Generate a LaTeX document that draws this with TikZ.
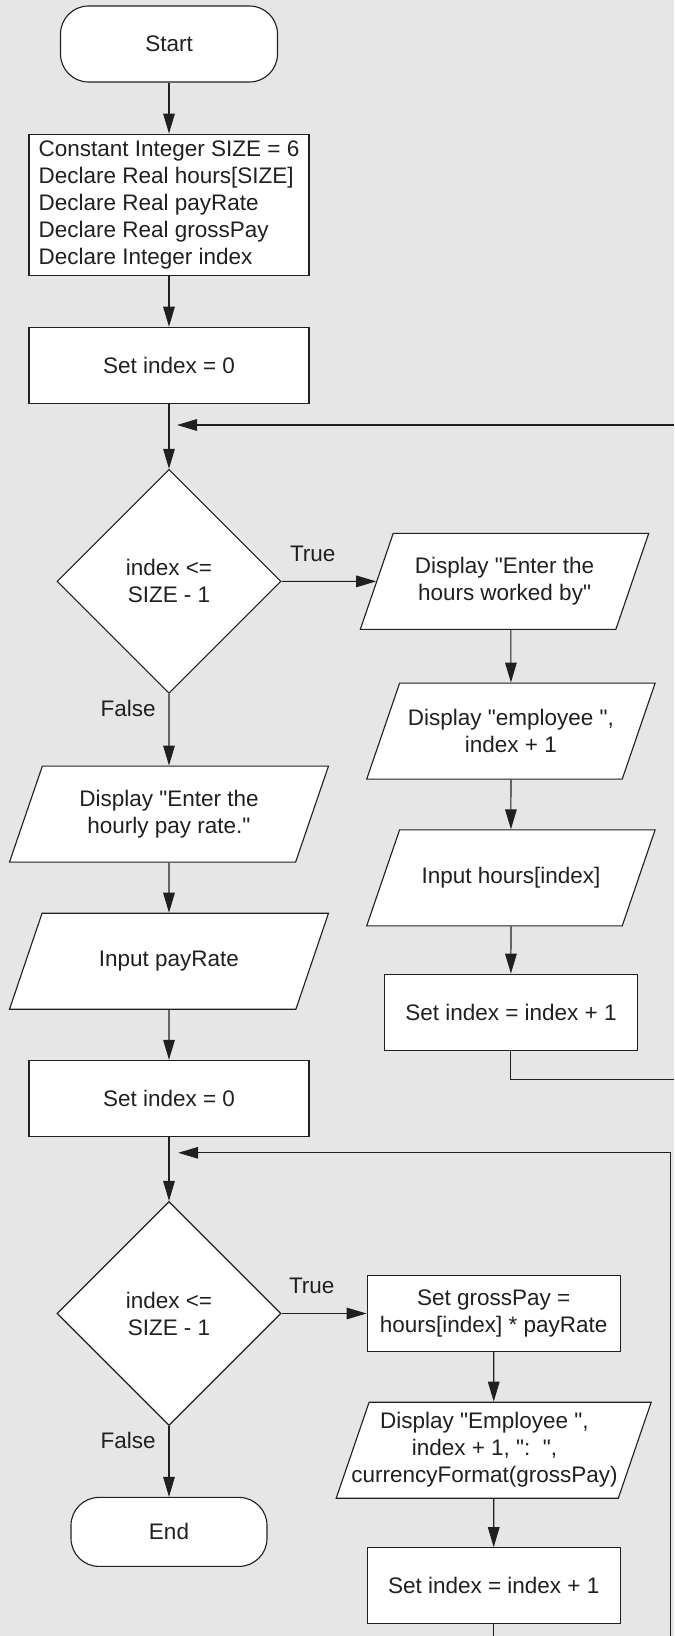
\documentclass[tikz,border=0pt]{standalone}
\usepackage{fontspec}
\setmainfont{Liberation Sans}[Ligatures=TeXOff]
\usetikzlibrary{positioning}
\usetikzlibrary{shapes.geometric}
\usetikzlibrary{arrows.meta}

\definecolor{pagegray}{RGB}{230,230,230}
\definecolor{ink}{RGB}{35,31,32}

\tikzset{
  blockbase/.style={draw=ink, fill=white, line width=0.28mm, text=ink, inner sep=0pt,
    font=\fontsize{16pt}{19.2pt}\selectfont, align=center},
  terminal/.style={blockbase, rectangle, rounded corners=7mm},
  process/.style={blockbase, rectangle, minimum width=63.3mm, minimum height=19mm},
  decision/.style={blockbase, diamond, aspect=1, minimum width=56mm, minimum height=56mm},
  io/.style={blockbase, trapezium, trapezium left angle=71, trapezium right angle=109,
    trapezium stretches body, minimum height=24mm},
  % inner ysep per numero di righe, cosi' l'inclinazione resta la stessa
  ioone/.style={io, inner ysep=26.5pt},
  iotwo/.style={io, inner ysep=16.9pt},
  iothree/.style={io, inner ysep=5.2pt},
  lbl/.style={text=ink, inner sep=0pt, font=\fontsize{16pt}{19.2pt}\selectfont},
  flow/.style={draw=ink, line width=0.28mm},
  arr/.style={flow, -{Triangle[length=5mm,width=2.9mm]}},
}

\begin{document}
\begin{tikzpicture}
    % Pagina
    \fill[pagegray] (0,0) rectangle (168.5mm,-409mm);
    \useasboundingbox (0,0) rectangle (168.5mm,-409mm);

    % Primo ciclo: lettura delle ore
    \node[terminal, minimum width=54.25mm, minimum height=19mm] (start) at (42.25mm,-11mm) {Start};
    \node[blockbase, rectangle, align=left, minimum width=70mm, minimum height=35.25mm, below=12.75mm of start] (decl)
      {Constant Integer SIZE = 6\\Declare Real hours[SIZE]\\Declare Real payRate\\Declare Real grossPay\\Declare Integer index};
    \node[process, minimum width=70mm, below=12.75mm of decl] (initA) {Set index = 0};
    \node[decision, below=16.25mm of initA] (testA) {index <=\\SIZE - 1};
    \node[iotwo, minimum width=72.1mm, right=23.65mm of testA] (askA) {Display "Enter the\\hours worked by"};
    \node[iotwo, inner ysep=18.5pt, minimum width=72.1mm, below=13.15mm of askA, xshift=1.6mm] (askB) {Display "employee ",\\index + 1};
    \node[ioone, minimum width=72.1mm, below=12.4mm of askB] (readH) {Input hours[index]};
    \node[process, below=11.8mm of readH] (incA) {Set index = index + 1};

    % Secondo ciclo: calcolo della paga
    \node[iotwo, minimum width=79.75mm, below=17.9mm of testA] (askRate) {Display "Enter the\\hourly pay rate."};
    \node[ioone, minimum width=79.75mm, below=12.5mm of askRate] (readRate) {Input payRate};
    \node[process, minimum width=70mm, below=12.5mm of readRate] (initB) {Set index = 0};
    \node[decision, below=16mm of initB] (testB) {index <=\\SIZE - 1};
    \node[process, right=21.25mm of testB] (calcPay) {Set grossPay =\\hours[index] * payRate};
    \node[iothree, minimum width=78.75mm, inner xsep=-10mm, below=12.4mm of calcPay] (showPay)
      {\begin{tabular}{@{}c@{\hspace{4.6mm}}}Display "Employee ",\\index + 1, ":\ \ ",\\currencyFormat(grossPay)\end{tabular}};
    \node[process, below=12.1mm of showPay] (incB) {Set index = index + 1};
    \node[terminal, minimum width=49mm, minimum height=17.25mm, below=17.7mm of testB] (stop) {End};

    % Punti dei ritorni (fuori dal bordo a destra)
    \coordinate (backA) at (168.5mm,-269.8mm);
    \coordinate (backAtop) at (168.5mm,-106.25mm);
    \coordinate (backBbottom) at (167.7mm,-409mm);
    \coordinate (backB) at (167.7mm,-288.2mm);

    % Frecce
    \draw[arr] (start) -- (decl);
    \draw[arr] (decl) -- (initA);
    \draw[arr] (initA) -- (testA);
    \draw[arr] (testA) -- node[lbl, above=4.65mm, pos=0.33] {True} (askA);
    \draw[arr] (askA.south -| askB) -- (askB);
    \draw[arr] (askB) -- (readH);
    \draw[arr] (readH) -- (incA);
    \draw[flow] (incA) |- (backA);
    \draw[arr] (backAtop) -- ([xshift=2mm]initA.south |- backAtop);
    \draw[arr] (testA) -- node[lbl, left=3.2mm, pos=0.2] {False} (askRate);
    \draw[arr] (askRate) -- (readRate);
    \draw[arr] (readRate) -- (initB);
    \draw[arr] (initB) -- (testB);
    \draw[arr] (testB) -- node[lbl, above=4.8mm, pos=0.355] {True} (calcPay);
    \draw[arr] (calcPay) -- (showPay);
    \draw[arr] (showPay) -- (incB);
    \draw[flow] (incB) -- (incB.south |- backBbottom);
    \draw[arr] (backBbottom) -- (backB) -- ([xshift=2.3mm]initB.south |- backB);
    \draw[arr] (testB) -- node[lbl, left=3.2mm, pos=0.2] {False} (stop);
\end{tikzpicture}
\end{document}
